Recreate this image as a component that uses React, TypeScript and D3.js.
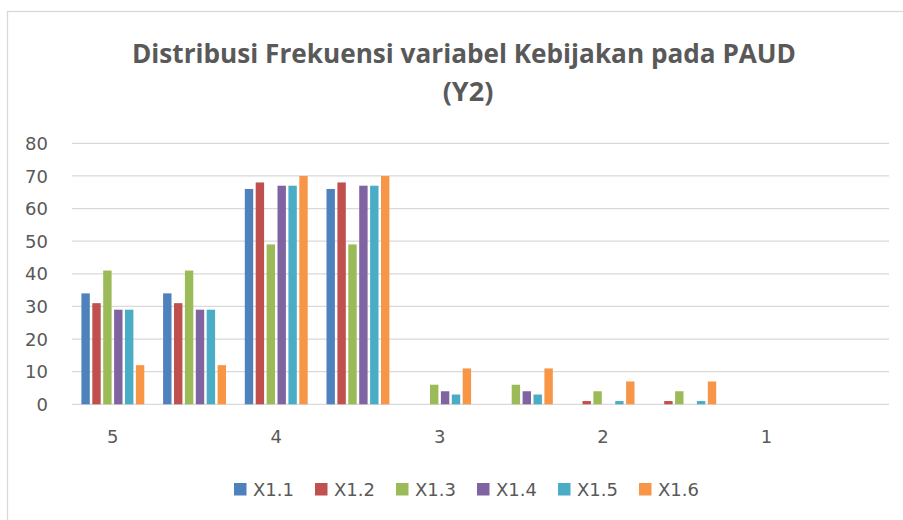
import React from 'react';
import * as d3 from 'd3';

const categories = ['5', '', '4', '', '3', '', '2', '', '1', ''];
const seriesNames = ['X1.1', 'X1.2', 'X1.3', 'X1.4', 'X1.5', 'X1.6'];
const x11 = [34, 34, 66, 66, 0, 0, 0, 0, 0, 0];
const x12 = [31, 31, 68, 68, 0, 0, 1, 1, 0, 0];
const x13 = [41, 41, 49, 49, 6, 6, 4, 4, 0, 0];
const x14 = [29, 29, 67, 67, 4, 4, 0, 0, 0, 0];
const x15 = [29, 29, 67, 67, 3, 3, 1, 1, 0, 0];
const x16 = [12, 12, 70, 70, 11, 11, 7, 7, 0, 0];
const yTicks = [0, 10, 20, 30, 40, 50, 60, 70, 80];
const colors = ['#4F81BD', '#C0504D', '#9BBB59', '#8064A2', '#4BACC6', '#F79646'];

const seriesValues = [x11, x12, x13, x14, x15, x16];

const W = 903, H = 520;
const plot = { left: 72, right: 889, top: 143.3, bottom: 404.3 };
const txt = '#595959';
const font = 'DejaVu Sans, sans-serif';

const App = () => {
  const x0 = d3.scaleBand<number>().domain(categories.map((_, i) => i)).range([plot.left, plot.right]);
  const groupW = 65.4;
  const x1 = d3.scaleBand<string>().domain(seriesNames).range([0, groupW]);
  const y = d3.scaleLinear().domain([0, 80]).range([plot.bottom, plot.top]);
  const barW = x1.bandwidth() - 2.5;

  const legendX = d3.scaleBand<string>().domain(seriesNames).range([234, 234 + 81 * 6]);

  return (
    <svg width={W} height={H} style={{ position: 'absolute', left: 0, top: 0 }}>
      <rect x={0} y={0} width={W} height={H} fill="#fff" />
      <rect x={7.5} y={11.5} width={1000} height={1000} fill="none" stroke="#d9d9d9" strokeWidth={1.3} />
      <text x={464} y={63} textAnchor="middle" fontFamily="Open Sans, sans-serif" fontWeight={700}
        fontSize={27} fill={txt} textLength={664} lengthAdjust="spacingAndGlyphs">
        Distribusi Frekuensi variabel Kebijakan pada PAUD
      </text>
      <text x={468} y={101} textAnchor="middle" fontFamily="Open Sans, sans-serif" fontWeight={700}
        fontSize={27} fill={txt}>
        (Y2)
      </text>
      {yTicks.map(t => (
        <g key={t}>
          <line x1={plot.left} x2={plot.right} y1={y(t)} y2={y(t)} stroke="#d9d9d9" strokeWidth={1.3} />
          <text x={48} y={y(t) + 6.6} textAnchor="end" fontFamily={font} fontSize={18} fill={txt}>{t}</text>
        </g>
      ))}
      {categories.map((c, i) => (
        <text key={i} x={x0(i)! + x0.bandwidth() / 2} y={443} textAnchor="middle" fontFamily={font}
          fontSize={18} fill={txt}>{c}</text>
      ))}
      {seriesValues.map((vals, s) => (
        <g key={s} fill={colors[s]}>
          {vals.map((v, i) => {
            if (v <= 0) return null;
            const cx = x0(i)! + x0.bandwidth() / 2 - groupW / 2 + x1(seriesNames[s])! + x1.bandwidth() / 2;
            return <rect key={i} x={cx - barW / 2} y={y(v)} width={barW} height={y(0) - y(v)} />;
          })}
        </g>
      ))}
      {seriesNames.map((n, s) => (
        <g key={n} transform={`translate(${legendX(n)},489)`}>
          <rect x={0} y={-6} width={12.5} height={12.5} fill={colors[s]} />
          <text x={19} y={6.5} fontFamily={font} fontSize={18} fill={txt}>{n}</text>
        </g>
      ))}
    </svg>
  );
};

export default App;
